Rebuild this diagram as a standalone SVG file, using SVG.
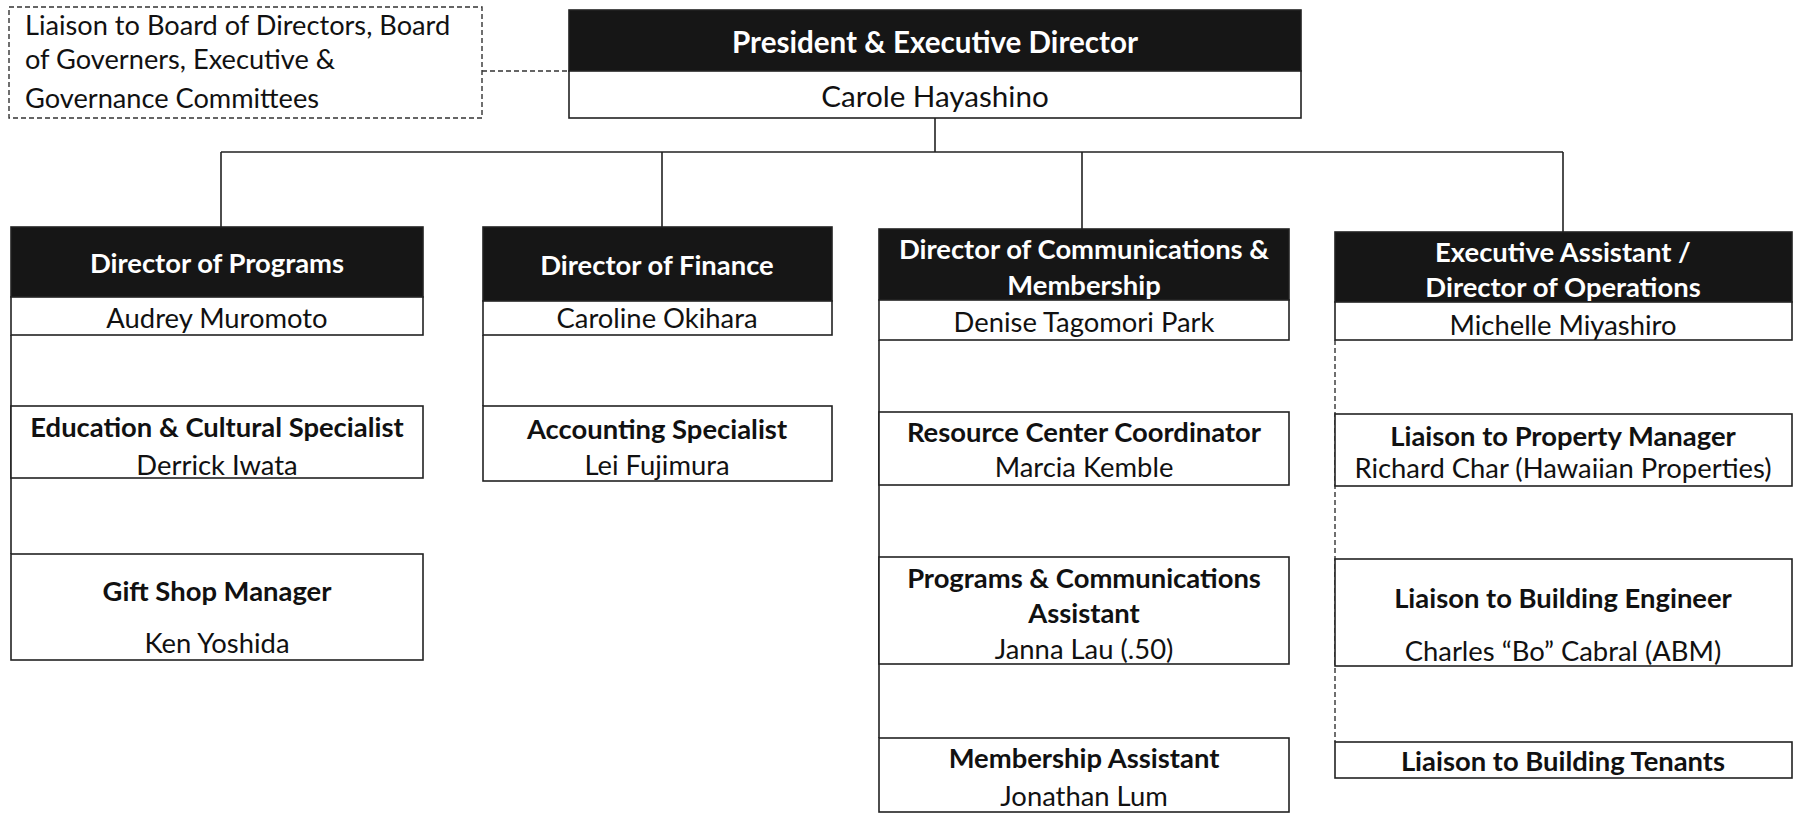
<svg xmlns="http://www.w3.org/2000/svg" width="1794" height="814" viewBox="0 0 1794 814">
<style>
.box{fill:#fff;stroke:#222;stroke-width:1.6}
.hdr{fill:#161616;stroke:#222;stroke-width:1.6}
.ht{font-family:Lato,"Liberation Sans",sans-serif;font-weight:bold;font-size:27.4px;fill:#fff;text-anchor:middle}
.bt{font-family:Lato,"Liberation Sans",sans-serif;font-weight:bold;font-size:27.4px;fill:#111;text-anchor:middle}
.nt{font-family:Lato,"Liberation Sans",sans-serif;font-size:27.4px;fill:#111;text-anchor:middle}
.lt{font-family:Lato,"Liberation Sans",sans-serif;font-size:27.2px;fill:#111}
.big{font-size:29.6px}
.ln{fill:none;stroke:#222;stroke-width:1.6}
.dl{fill:none;stroke:#333;stroke-width:1.4;stroke-dasharray:5 3}
</style>
<g id="connectors">
<path class="dl" d="M482 71 H569"/>
<path class="ln" d="M935 118 V152 M221 152 H1563 M221 152 V227 M662 152 V227 M1082 152 V229 M1563 152 V232"/>
<path class="ln" d="M11 335 V554 M483 335 V406 M879 340 V738"/>
<path class="dl" d="M1335 340 V742"/>
</g>
<g id="liaison">
<rect x="9" y="7" width="473" height="111" fill="#fff" stroke="#333" stroke-width="1.4" stroke-dasharray="5 3"/>
<text class="lt" x="25" y="35">Liaison to Board of Directors, Board</text>
<text class="lt" x="25" y="69">of Governers, Executive &amp;</text>
<text class="lt" x="25" y="108">Governance Committees</text>
</g>
<g id="president">
<rect class="hdr" x="569" y="10" width="732" height="61"/>
<rect class="box" x="569" y="71" width="732" height="47"/>
<text class="ht big" x="935" y="53">President &amp; Executive Director</text>
<text class="nt big" x="935" y="107">Carole Hayashino</text>
</g>
<g id="dir-programs">
<rect class="hdr" x="11" y="227" width="412" height="70"/>
<rect class="box" x="11" y="297" width="412" height="38"/>
<text class="ht" x="217" y="273">Director of Programs</text>
<text class="nt" x="217" y="328">Audrey Muromoto</text>
</g>
<g id="edu-specialist">
<rect class="box" x="11" y="406" width="412" height="72"/>
<text class="bt" x="217" y="437">Education &amp; Cultural Specialist</text>
<text class="nt" x="217" y="475">Derrick Iwata</text>
</g>
<g id="gift-shop">
<rect class="box" x="11" y="554" width="412" height="106"/>
<text class="bt" x="217" y="601">Gift Shop Manager</text>
<text class="nt" x="217" y="653">Ken Yoshida</text>
</g>
<g id="dir-finance">
<rect class="hdr" x="483" y="227" width="349" height="74"/>
<rect class="box" x="483" y="301" width="349" height="34"/>
<text class="ht" x="657" y="275">Director of Finance</text>
<text class="nt" x="657" y="328">Caroline Okihara</text>
</g>
<g id="accounting">
<rect class="box" x="483" y="406" width="349" height="75"/>
<text class="bt" x="657" y="439">Accounting Specialist</text>
<text class="nt" x="657" y="475">Lei Fujimura</text>
</g>
<g id="dir-comm">
<rect class="hdr" x="879" y="229" width="410" height="71"/>
<rect class="box" x="879" y="300" width="410" height="40"/>
<text class="ht" x="1084" y="259">Director of Communications &amp;</text>
<text class="ht" x="1084" y="295">Membership</text>
<text class="nt" x="1084" y="332">Denise Tagomori Park</text>
</g>
<g id="resource-center">
<rect class="box" x="879" y="412" width="410" height="73"/>
<text class="bt" x="1084" y="442">Resource Center Coordinator</text>
<text class="nt" x="1084" y="477">Marcia Kemble</text>
</g>
<g id="prog-comm-asst">
<rect class="box" x="879" y="557" width="410" height="107"/>
<text class="bt" x="1084" y="588">Programs &amp; Communications</text>
<text class="bt" x="1084" y="623">Assistant</text>
<text class="nt" x="1084" y="659">Janna Lau (.50)</text>
</g>
<g id="membership-asst">
<rect class="box" x="879" y="738" width="410" height="74"/>
<text class="bt" x="1084" y="768">Membership Assistant</text>
<text class="nt" x="1084" y="806">Jonathan Lum</text>
</g>
<g id="exec-asst">
<rect class="hdr" x="1335" y="232" width="457" height="70"/>
<rect class="box" x="1335" y="302" width="457" height="38"/>
<text class="ht" x="1563" y="262">Executive Assistant /</text>
<text class="ht" x="1563" y="297">Director of Operations</text>
<text class="nt" x="1563" y="335">Michelle Miyashiro</text>
</g>
<g id="liaison-property">
<rect class="box" x="1335" y="414" width="457" height="72"/>
<text class="bt" x="1563" y="446">Liaison to Property Manager</text>
<text class="nt" x="1563" y="478">Richard Char (Hawaiian Properties)</text>
</g>
<g id="liaison-engineer">
<rect class="box" x="1335" y="559" width="457" height="107"/>
<text class="bt" x="1563" y="608">Liaison to Building Engineer</text>
<text class="nt" x="1563" y="661">Charles “Bo” Cabral (ABM)</text>
</g>
<g id="liaison-tenants">
<rect class="box" x="1335" y="742" width="457" height="36"/>
<text class="bt" x="1563" y="771">Liaison to Building Tenants</text>
</g>
</svg>
